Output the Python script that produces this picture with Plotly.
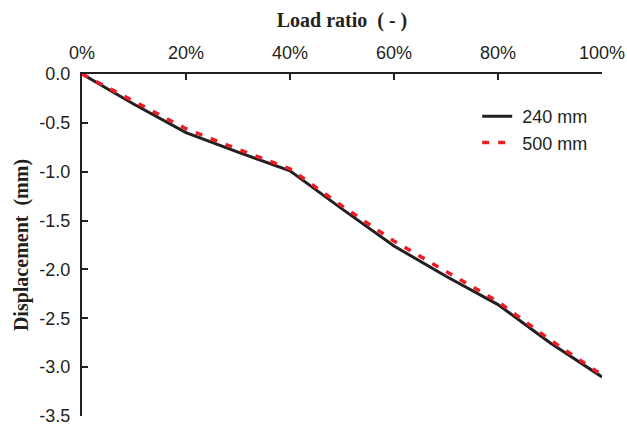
import plotly.graph_objects as go

# Load ratio (fraction of ultimate load)
load_ratio = [0.0, 0.1, 0.2, 0.3, 0.4, 0.5, 0.6, 0.7, 0.8, 0.9, 1.0]

# Vertical displacement (mm) for each thickness
disp_240 = [0.0, -0.31, -0.60, -0.80, -0.99, -1.38, -1.76, -2.07, -2.36, -2.75, -3.10]
disp_500 = [0.0, -0.28, -0.56, -0.77, -0.97, -1.35, -1.71, -2.02, -2.33, -2.72, -3.08]

x_ticks = [0.0, 0.2, 0.4, 0.6, 0.8, 1.0]
x_tick_labels = ["0%", "20%", "40%", "60%", "80%", "100%"]
y_ticks = [0.0, -0.5, -1.0, -1.5, -2.0, -2.5, -3.0, -3.5]
y_tick_labels = ["0.0", "-0.5", "-1.0", "-1.5", "-2.0", "-2.5", "-3.0", "-3.5"]

axis_color = "#231f20"
title_font = dict(family="Liberation Serif, Times New Roman, serif", size=20, color="#231f20")

fig = go.Figure()
fig.add_trace(go.Scatter(
    x=load_ratio, y=disp_240, mode="lines", name=" 240 mm", legendgroup="a",
    line=dict(color="#231f20", width=3),
))
fig.add_trace(go.Scatter(
    x=load_ratio, y=disp_500, mode="lines", name=" 500 mm", legendgroup="b",
    line=dict(color="#ed1c24", width=3.5, dash="7px,9px"),
))

fig.update_layout(
    width=627, height=429,
    margin=dict(l=82, r=25, t=74, b=13),
    plot_bgcolor="white", paper_bgcolor="white",
    font=dict(family="Liberation Sans, Arial, sans-serif", size=18, color="#231f20"),
    showlegend=True,
    legend=dict(
        x=0.76, y=0.93, xanchor="left", yanchor="top",
        bgcolor="rgba(0,0,0,0)", font=dict(size=18),
        tracegroupgap=0,
    ),
    xaxis=dict(
        side="top", range=[0, 1], tickvals=x_ticks, ticktext=x_tick_labels,
        showgrid=False, zeroline=False, showline=True, linecolor=axis_color, linewidth=2,
        ticks="inside", ticklen=6, tickwidth=1.5, tickcolor=axis_color,
        ticklabelstandoff=6, automargin=False,
        title=dict(text="<b>Load ratio\u00a0\u00a0( - )</b>", standoff=10, font=title_font),
    ),
    yaxis=dict(
        range=[-3.5, 0], tickvals=y_ticks, ticktext=y_tick_labels,
        showgrid=False, zeroline=False, showline=True, linecolor=axis_color, linewidth=2,
        ticks="inside", ticklen=6, tickwidth=1.5, tickcolor=axis_color,
        ticklabelstandoff=6, automargin=False,
        title=dict(text="<b>Displacement\u00a0\u00a0(mm)</b>", standoff=5, font=title_font),
    ),
)

fig.write_html("out.html")
